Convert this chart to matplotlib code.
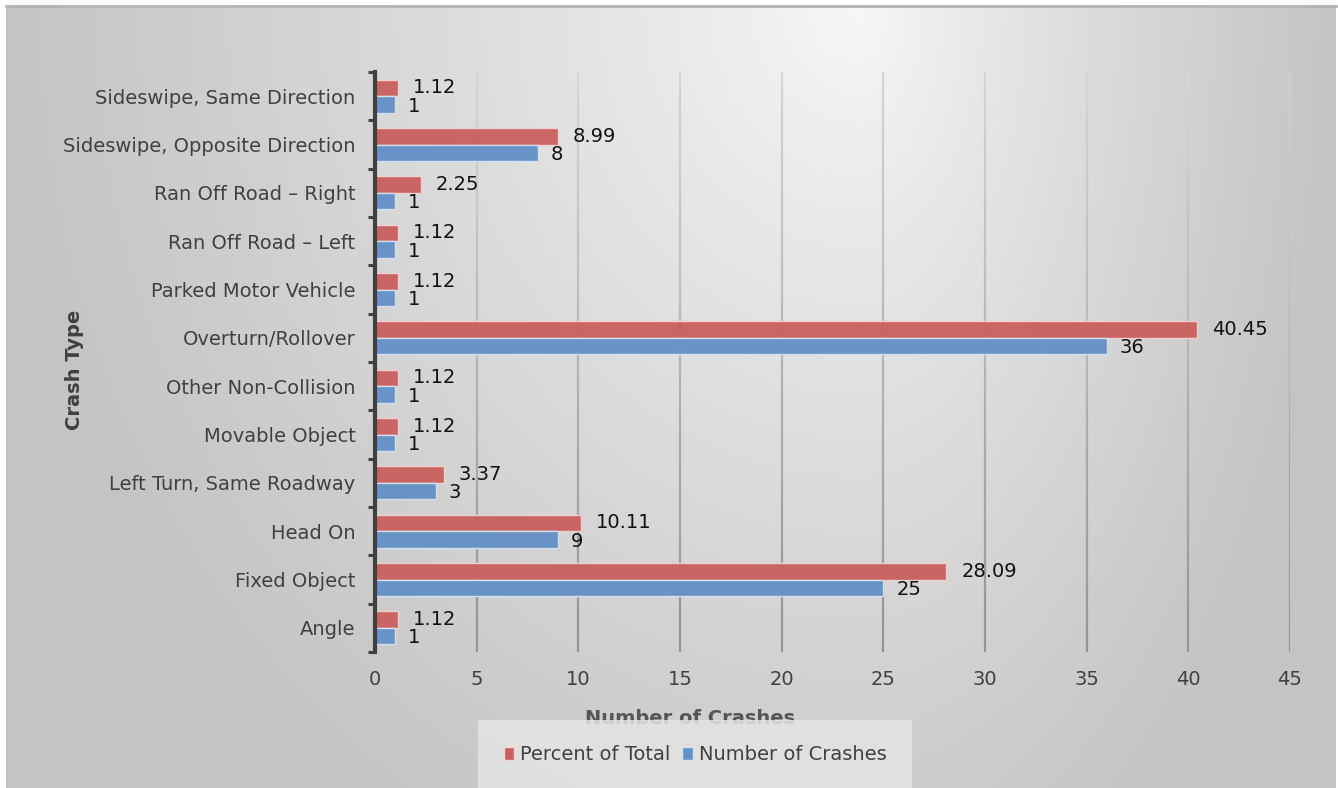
import numpy as np
import matplotlib
matplotlib.use("Agg")
import matplotlib.pyplot as plt
from matplotlib.patches import Rectangle

# Data (bottom to top)
crash_types = ["Angle", "Fixed Object", "Head On", "Left Turn, Same Roadway",
               "Movable Object", "Other Non-Collision", "Overturn/Rollover",
               "Parked Motor Vehicle", "Ran Off Road \u2013 Left",
               "Ran Off Road \u2013 Right", "Sideswipe, Opposite Direction",
               "Sideswipe, Same Direction"]
percent_of_total = [1.12, 28.09, 10.11, 3.37, 1.12, 1.12, 40.45, 1.12, 1.12, 2.25, 8.99, 1.12]
number_of_crashes = [1, 25, 9, 3, 1, 1, 36, 1, 1, 1, 8, 1]
x_ticks = [0, 5, 10, 15, 20, 25, 30, 35, 40, 45]

W, H = 1338, 788
plt.rcParams['font.family'] = ['DejaVu Sans']
fig = plt.figure(figsize=(W / 100, H / 100), dpi=100)

# gradient background of the chart area
bg = fig.add_axes([0, 0, 1, 1], zorder=-10)
xx, yy = np.meshgrid(np.arange(W), np.arange(H))
cx = 860
dx = np.where(xx < cx, (xx - cx) / cx, (xx - cx) / (W - cx))
dy = yy / (1.25 * H)
r = np.clip(np.sqrt(dx ** 2 + dy ** 2) ** 0.85, 0, 1)
val = (248 - 52 * r) / 255.0
img = np.dstack([val, val, val])
img[:5, :, :] = 1.0
img[:, :6, :] = 1.0
img[:, 1336:, :] = 1.0
bg.imshow(img, extent=(0, W, H, 0), aspect='auto', interpolation='bilinear')
bg.plot([6, 1336], [5.5, 5.5], color='#b4b4b4', linewidth=2)
bg.plot([6.5, 6.5], [5, H], color='#c0c0c0', linewidth=1)
bg.set_xlim(0, W)
bg.set_ylim(H, 0)
bg.axis('off')

ax = fig.add_axes([375 / W, 1 - 652 / H, (1290 - 375) / W, (652 - 72) / H])
ax.patch.set_alpha(0)

# gridlines, lighter at the top like the reference
n_seg = 40
seg_y = np.linspace(-0.5, len(crash_types) - 0.5, n_seg + 1)
for xt in x_ticks[1:]:
    for k in range(n_seg):
        shade = 0.84 - 0.26 * (1 - k / n_seg)
        ax.plot([xt, xt], [seg_y[k], seg_y[k + 1]], color=(shade, shade, shade),
                linewidth=1.6, solid_capstyle='butt', zorder=1)

y = np.arange(len(crash_types))
h = 0.34
red = '#c9605d'
blue = '#6390c6'
ax.barh(y, percent_of_total, height=h, align='edge', color=red,
        edgecolor='#f2d4d3', linewidth=1, alpha=0.95, zorder=3)
ax.barh(y - h, number_of_crashes, height=h, align='edge', color=blue,
        edgecolor='#d6e2f1', linewidth=1, alpha=0.95, zorder=3)

for yi, p, n in zip(y, percent_of_total, number_of_crashes):
    ax.annotate(f"{p:.2f}", (p, yi + h / 2), xytext=(15, 0), textcoords='offset pixels',
                ha='left', va='center', fontsize=14, color='#111111')
    ax.annotate(f"{n}", (n, yi - h / 2 - 0.04), xytext=(13, 0), textcoords='offset pixels',
                ha='left', va='center', fontsize=14, color='#111111')

ax.set_xlim(0, 45)
ax.set_ylim(-0.5, len(crash_types) - 0.5)
ax.set_xticks(x_ticks)
ax.set_yticks(y)
ax.set_yticklabels(crash_types)
ax.set_yticks(np.arange(-0.5, len(crash_types)), minor=True)
ax.tick_params(axis='y', which='major', length=0, pad=14, labelsize=14, labelcolor='#404040')
ax.tick_params(axis='y', which='minor', length=5, width=2.2, color='#404040', direction='out')
ax.tick_params(axis='x', length=0, pad=13, labelsize=14, labelcolor='#404040')

for s in ['top', 'right', 'bottom']:
    ax.spines[s].set_visible(False)
ax.spines['left'].set_color('#404040')
ax.spines['left'].set_linewidth(3)
ax.spines['left'].set_zorder(4)

fig.text(75 / W, 1 - 370 / H, "Crash Type", rotation=90, ha='center', va='center',
         fontsize=14, fontweight='bold', color='#404040')

leg = fig.legend(handles=[Rectangle((0, 0), 1, 1, facecolor=red, edgecolor='#f2d4d3'),
                          Rectangle((0, 0), 1, 1, facecolor=blue, edgecolor='#d6e2f1')],
                 labels=["Percent of Total", "Number of Crashes"],
                 loc='center', bbox_to_anchor=(695 / W, 1 - 755 / H), ncol=2,
                 fontsize=14, handlelength=0.55, handleheight=0.65, handletextpad=0.3,
                 columnspacing=0.6, borderpad=1.3, frameon=True, fancybox=False,
                 labelcolor='#404040')
leg.get_frame().set_facecolor('#e4e4e4')
leg.get_frame().set_edgecolor('none')
leg.get_frame().set_alpha(0.85)

fig.text(690 / W, 1 - 718 / H, "Number of Crashes", ha='center', va='center',
         fontsize=14, fontweight='bold', color='#404040', alpha=0.85, zorder=0)

fig.savefig("out.png", dpi=100)
